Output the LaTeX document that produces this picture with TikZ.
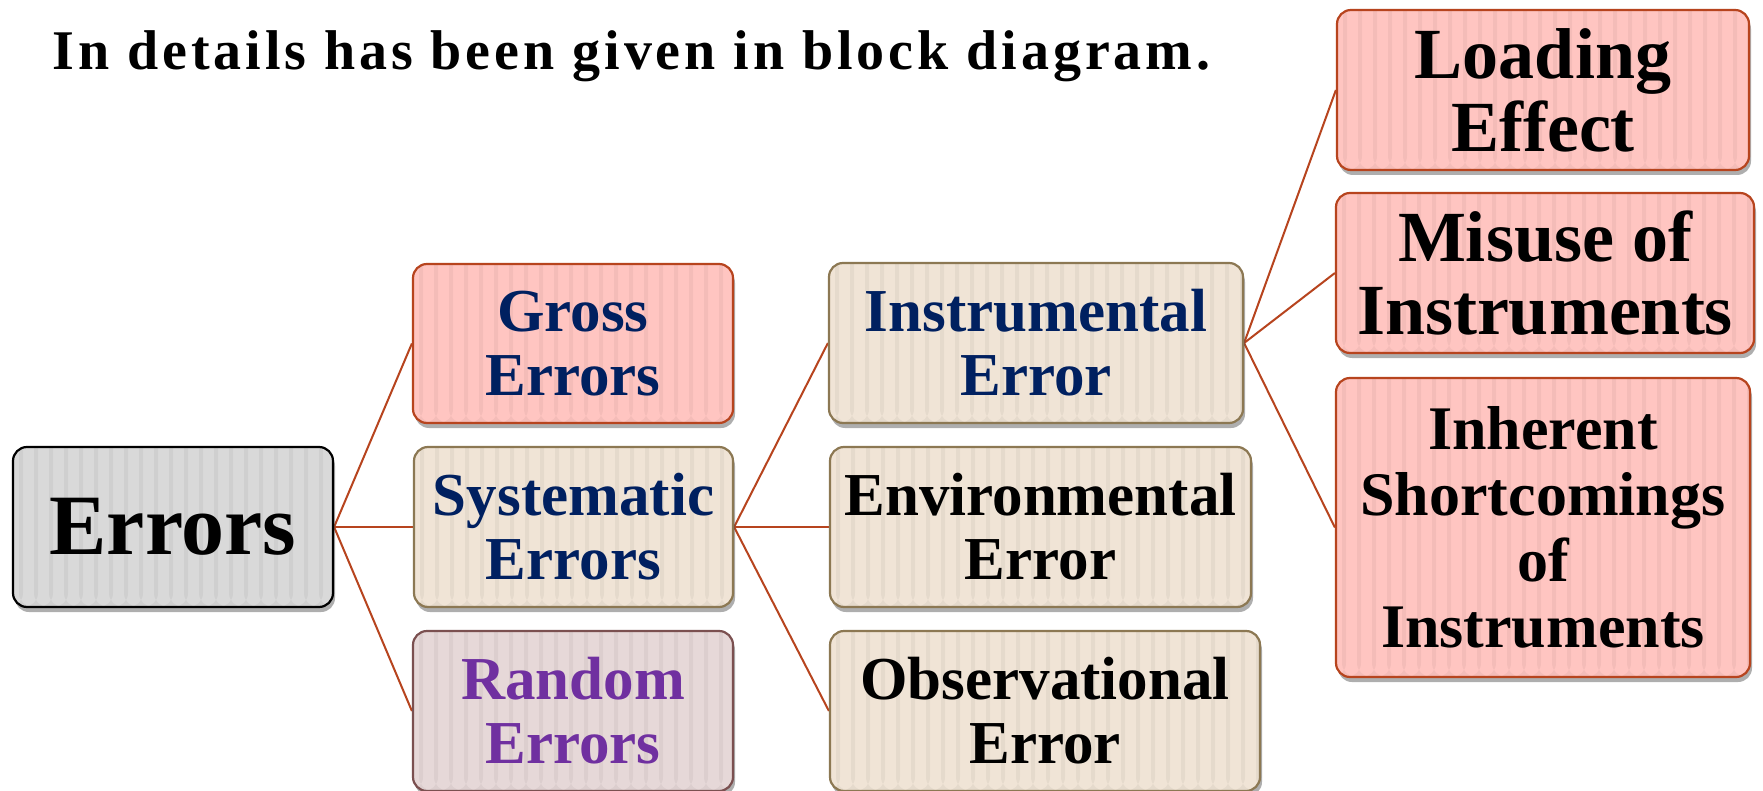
\documentclass[tikz,border=0pt]{standalone}
\usepackage{fontspec}
\setmainfont{Liberation Serif}
\usetikzlibrary{shadows,backgrounds}
\definecolor{rust}{HTML}{B7441E}
\definecolor{pinkfill}{HTML}{FFC5C1}
\definecolor{beigefill}{HTML}{F0E4D6}
\definecolor{beigeline}{HTML}{8C7853}
\definecolor{grayfill}{HTML}{D9D9D9}
\definecolor{randfill}{HTML}{E6D8D8}
\definecolor{randline}{HTML}{7B5050}
\definecolor{navy}{HTML}{002060}
\definecolor{purp}{HTML}{7030A0}
\tikzset{
  stripes/.style={path picture={
    \foreach \k in {0,...,30}{
      \fill[black,opacity=0.045] ([xshift=\k*15pt+6pt]path picture bounding box.south west) rectangle ++(4pt,400pt);
    }}},
  box/.style={rounded corners=14pt, line width=2.2pt, align=center, inner sep=0pt,
    font=\bfseries\fontsize{61}{64}\selectfont,
    drop shadow={shadow xshift=2pt,shadow yshift=-5pt,opacity=0.45,fill=black!70},
    stripes},
  pinkbox/.style={box, fill=pinkfill, draw=rust},
  beigebox/.style={box, fill=beigefill, draw=beigeline},
  graybox/.style={box, fill=grayfill, draw=black},
  randbox/.style={box, fill=randfill, draw=randline},
  link/.style={draw=rust, line width=2pt},
}
\begin{document}
\begin{tikzpicture}[x=1pt,y=-1pt]
\useasboundingbox (0,0) rectangle (1763,791);
\node[anchor=base west, font=\bfseries\fontsize{56}{60}\selectfont\addfontfeature{LetterSpace=7}] (title) at (49,70) {In details has been given in block diagram.};

\node[graybox, minimum width=320pt, minimum height=160pt, font=\bfseries\fontsize{86}{90}\selectfont] (errors) at (173,527) {Errors};

\node[pinkbox, minimum width=320pt, minimum height=159pt, text=navy] (gross) at (573,343.5) {Gross\\Errors};
\node[beigebox, minimum width=319pt, minimum height=160pt, text=navy] (syst) at (573.5,527) {Systematic\\Errors};
\node[randbox, minimum width=320pt, minimum height=160pt, text=purp] (random) at (573,711) {Random\\Errors};

\node[beigebox, minimum width=414pt, minimum height=160pt, text=navy] (instr) at (1036,343) {Instrumental\\Error};
\node[beigebox, minimum width=421pt, minimum height=160pt] (env) at (1040.5,527) {Environmental\\Error};
\node[beigebox, minimum width=430pt, minimum height=160pt] (obs) at (1045,711) {Observational\\Error};

\node[pinkbox, minimum width=412pt, minimum height=160pt, font=\bfseries\fontsize{72}{73}\selectfont] (loading) at (1543,90) {Loading\\Effect};
\node[pinkbox, minimum width=418pt, minimum height=160pt, font=\bfseries\fontsize{72}{73}\selectfont] (misuse) at (1545,273) {Misuse of\\Instruments};
\node[pinkbox, minimum width=414pt, minimum height=299pt, font=\bfseries\fontsize{62}{66}\selectfont] (inherent) at (1543,527.5) {Inherent\\Shortcomings\\of\\Instruments};

\begin{scope}[on background layer]
\fill[white] (0,0) rectangle (1763,791);
\draw[link] (errors.east) -- (gross.west);
\draw[link] (errors.east) -- (syst.west);
\draw[link] (errors.east) -- (random.west);
\draw[link] (syst.east) -- (instr.west);
\draw[link] (syst.east) -- (env.west);
\draw[link] (syst.east) -- (obs.west);
\draw[link] (instr.east) -- (loading.west);
\draw[link] (instr.east) -- (misuse.west);
\draw[link] (instr.east) -- (inherent.west);
\end{scope}
\end{tikzpicture}
\end{document}
